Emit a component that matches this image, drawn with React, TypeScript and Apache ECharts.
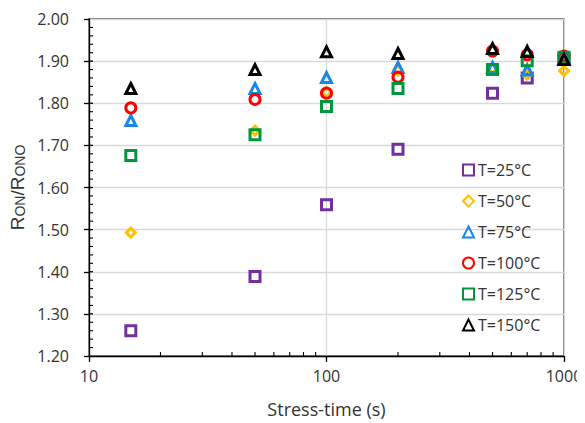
import React, { useEffect, useRef } from "react";
import * as echarts from "echarts";

// Stress time (s) for every measurement
const stressTimes = [15, 50, 100, 200, 500, 700, 1000];

// R_ON / R_ON0 per temperature
const ron25 = [1.26, 1.389, 1.559, 1.691, 1.824, 1.86, 1.905];
const ron50 = [1.493, 1.735, 1.826, 1.878, 1.883, 1.868, 1.877];
const ron75 = [1.759, 1.835, 1.861, 1.885, 1.885, 1.879, 1.907];
const ron100 = [1.789, 1.809, 1.824, 1.862, 1.924, 1.915, 1.912];
const ron125 = [1.676, 1.725, 1.792, 1.835, 1.88, 1.901, 1.909];
const ron150 = [1.835, 1.88, 1.922, 1.918, 1.93, 1.923, 1.904];

const seriesNames = ["T=25°C", "T=50°C", "T=75°C", "T=100°C", "T=125°C", "T=150°C"];
const seriesValues = [ron25, ron50, ron75, ron100, ron125, ron150];
const seriesSymbols = ["rect", "diamond", "triangle", "circle", "rect", "triangle"];
const seriesColors = ["#7030A0", "#FFC000", "#1A86E8", "#FF0000", "#00963C", "#000000"];

// Minor tick positions on both axes (drawn inside the plot)
const minorTimeTicks = [20, 30, 40, 50, 60, 70, 80, 90, 200, 300, 400, 500, 600, 700, 800, 900];
const minorRatioTicks = [
  1.22, 1.24, 1.26, 1.28, 1.32, 1.34, 1.36, 1.38, 1.42, 1.44, 1.46, 1.48,
  1.52, 1.54, 1.56, 1.58, 1.62, 1.64, 1.66, 1.68, 1.72, 1.74, 1.76, 1.78,
  1.82, 1.84, 1.86, 1.88, 1.92, 1.94, 1.96, 1.98,
];
const majorRatioTicks = [1.3, 1.4, 1.5, 1.6, 1.7, 1.8, 1.9];

const FONT = "Open Sans";
const TEXT = "#333333";

export default function App() {
  const ref = useRef<HTMLDivElement>(null);

  useEffect(() => {
    if (!ref.current) return;
    const chart = echarts.init(ref.current, null, { renderer: "svg" });

    const scatterSeries = seriesNames.map((name, i) => ({
      name,
      type: "scatter",
      symbol: seriesSymbols[i],
      symbolSize: seriesSymbols[i] === "diamond" ? 9 : 10,
      data: stressTimes.map((t, j) => [t, seriesValues[i][j]]),
      itemStyle: {
        color: "rgba(255,255,255,0)",
        borderColor: seriesColors[i],
        borderWidth: 3,
        opacity: 1,
      },
      emphasis: { disabled: true },
      z: 3 + i,
    }));

    const tickStyle = { stroke: "#000000", lineWidth: 1.1 };

    chart.setOption({
      animation: false,
      backgroundColor: "#ffffff",
      grid: {
        left: 89,
        top: 19,
        right: 21,
        bottom: 67,
        outerBoundsMode: "none",
        containLabel: false,
        show: true,
        borderColor: "#404040",
        borderWidth: 1.3,
        backgroundColor: "transparent",
      },
      legend: {
        orient: "vertical",
        left: 457,
        top: 157,
        itemWidth: 11,
        itemHeight: 11,
        itemGap: 15,
        data: seriesNames,
        textStyle: { fontFamily: FONT, fontSize: 16, color: TEXT, padding: [0, 0, 0, -1] },
        selectedMode: false,
      },
      xAxis: {
        type: "log",
        logBase: 10,
        min: 10,
        max: 1000,
        name: "Stress-time (s)",
        nameLocation: "middle",
        nameGap: 44,
        nameMoveOverlap: false,
        nameTextStyle: { fontFamily: FONT, fontSize: 18, color: TEXT },
        axisLine: { show: true, lineStyle: { color: "#000000", width: 1.3 } },
        axisTick: { show: true, inside: false, length: 6, lineStyle: { color: "#000000", width: 1.3 } },
        axisLabel: {
          fontFamily: FONT,
          fontSize: 16,
          color: TEXT,
          margin: 12,
          formatter: (v: number) => String(v),
        },
        splitLine: { show: true, lineStyle: { color: "#d9d9d9", width: 1.3 } },
        minorTick: { show: false },
      },
      yAxis: {
        type: "value",
        min: 1.2,
        max: 2.0,
        interval: 0.1,
        name: "{a|R}{b|ON}{a|/R}{b|ONO}",
        nameLocation: "middle",
        nameGap: 62,
        nameMoveOverlap: false,
        nameTextStyle: {
          color: TEXT,
          rich: {
            a: { fontFamily: "Liberation Sans", fontSize: 19, color: TEXT, verticalAlign: "bottom" },
            b: { fontFamily: "Liberation Sans", fontSize: 14, color: TEXT, verticalAlign: "bottom" },
          },
        },
        axisLine: { show: true, lineStyle: { color: "#000000", width: 1.3 } },
        axisTick: { show: true, inside: false, length: 5, lineStyle: { color: "#000000", width: 1.3 } },
        minorTick: { show: false },
        axisLabel: {
          fontFamily: FONT,
          fontSize: 16,
          color: TEXT,
          margin: 20,
          formatter: (v: number) => v.toFixed(2),
        },
        splitLine: { show: true, lineStyle: { color: "#d9d9d9", width: 1.3 } },
      },
      series: [
        ...scatterSeries,
        {
          type: "custom",
          name: "timeMinorTicks",
          silent: true,
          clip: false,
          data: minorTimeTicks.map((t) => [t, 1.2]),
          renderItem: (_params: any, api: any) => {
            const p = api.coord([api.value(0), api.value(1)]);
            return { type: "line", shape: { x1: p[0], y1: p[1], x2: p[0], y2: p[1] - 4 }, style: tickStyle };
          },
          z: 2,
        },
        {
          type: "custom",
          name: "ratioMinorTicks",
          silent: true,
          clip: false,
          data: minorRatioTicks.map((r) => [10, r]),
          renderItem: (_params: any, api: any) => {
            const p = api.coord([api.value(0), api.value(1)]);
            return { type: "line", shape: { x1: p[0], y1: p[1], x2: p[0] + 4, y2: p[1] }, style: tickStyle };
          },
          z: 2,
        },
        {
          type: "custom",
          name: "ratioMajorTicksInner",
          silent: true,
          clip: false,
          data: majorRatioTicks.map((r) => [10, r]),
          renderItem: (_params: any, api: any) => {
            const p = api.coord([api.value(0), api.value(1)]);
            return {
              type: "line",
              shape: { x1: p[0], y1: p[1], x2: p[0] + 4, y2: p[1] },
              style: { stroke: "#000000", lineWidth: 1.3 },
            };
          },
          z: 2,
        },
      ],
    });

    return () => chart.dispose();
  }, []);

  return <div ref={ref} style={{ width: 585, height: 423, marginLeft: -8, marginTop: -8 }} />;
}
